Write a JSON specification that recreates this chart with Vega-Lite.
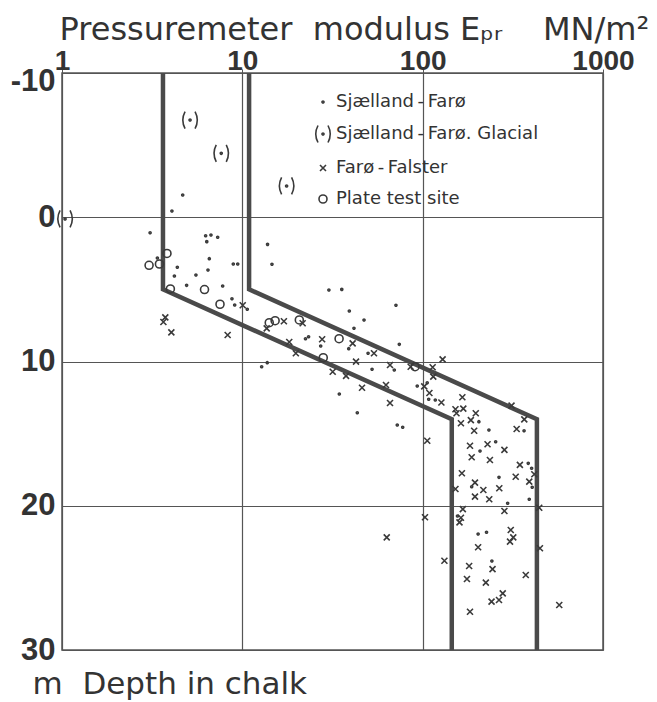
{
  "$schema": "https://vega.github.io/schema/vega-lite/v6.json",
  "width": 541,
  "height": 577,
  "autosize": "none",
  "padding": {"left": 62, "top": 73, "right": 54, "bottom": 52},
  "background": "white",
  "config": {
    "view": {"stroke": "#555", "strokeWidth": 1.5},
    "axis": {"domain": false, "grid": true, "gridColor": "#555", "gridWidth": 1.2, "gridOpacity": 1, "labelColor": "#333", "titleColor": "#333"}
  },
  "datasets": {
    "bounds": [
      {"b": "lower", "i": 0, "E": 3.63, "z": -10},
      {"b": "lower", "i": 1, "E": 3.63, "z": 5},
      {"b": "lower", "i": 2, "E": 145, "z": 14},
      {"b": "lower", "i": 3, "E": 145, "z": 30},
      {"b": "upper", "i": 0, "E": 10.9, "z": -10},
      {"b": "upper", "i": 1, "E": 10.9, "z": 5},
      {"b": "upper", "i": 2, "E": 430, "z": 14},
      {"b": "upper", "i": 3, "E": 430, "z": 30}
    ],
    "pts": [
      {"s": "Sjælland - Farø. Glacial", "E": 5.13, "z": -6.74},
      {"s": "Sjælland - Farø. Glacial", "E": 7.64, "z": -4.43},
      {"s": "Sjælland - Farø. Glacial", "E": 17.6, "z": -2.17},
      {"s": "Sjælland - Farø. Glacial", "E": 1.04, "z": 0.12},
      {"s": "Plate test site", "E": 3.82, "z": 2.51},
      {"s": "Plate test site", "E": 3.47, "z": 3.24},
      {"s": "Plate test site", "E": 3.04, "z": 3.33},
      {"s": "Plate test site", "E": 3.99, "z": 4.97},
      {"s": "Plate test site", "E": 6.17, "z": 5.01},
      {"s": "Plate test site", "E": 7.52, "z": 6.03},
      {"s": "Plate test site", "E": 14.1, "z": 7.31},
      {"s": "Plate test site", "E": 15.2, "z": 7.17},
      {"s": "Plate test site", "E": 20.7, "z": 7.12},
      {"s": "Plate test site", "E": 34.4, "z": 8.42},
      {"s": "Plate test site", "E": 28.1, "z": 9.74},
      {"s": "Plate test site", "E": 90.7, "z": 10.36},
      {"s": "Sjælland - Farø", "E": 4.67, "z": -1.54},
      {"s": "Sjælland - Farø", "E": 4.07, "z": -0.43},
      {"s": "Sjælland - Farø", "E": 3.08, "z": 1.07},
      {"s": "Sjælland - Farø", "E": 6.26, "z": 1.28},
      {"s": "Sjælland - Farø", "E": 6.7, "z": 1.23},
      {"s": "Sjælland - Farø", "E": 7.3, "z": 1.39},
      {"s": "Sjælland - Farø", "E": 6.35, "z": 1.69},
      {"s": "Sjælland - Farø", "E": 3.38, "z": 2.82},
      {"s": "Sjælland - Farø", "E": 6.56, "z": 2.87},
      {"s": "Sjælland - Farø", "E": 4.36, "z": 3.47},
      {"s": "Sjælland - Farø", "E": 6.45, "z": 3.66},
      {"s": "Sjælland - Farø", "E": 8.91, "z": 3.24},
      {"s": "Sjælland - Farø", "E": 9.43, "z": 3.24},
      {"s": "Sjælland - Farø", "E": 4.2, "z": 4.07},
      {"s": "Sjælland - Farø", "E": 5.53, "z": 4.0},
      {"s": "Sjælland - Farø", "E": 4.91, "z": 4.72},
      {"s": "Sjælland - Farø", "E": 7.78, "z": 4.77},
      {"s": "Sjælland - Farø", "E": 13.8, "z": 1.88},
      {"s": "Sjælland - Farø", "E": 14.6, "z": 3.26},
      {"s": "Sjælland - Farø", "E": 8.76, "z": 5.65},
      {"s": "Sjælland - Farø", "E": 9.07, "z": 6.08},
      {"s": "Sjælland - Farø", "E": 10.65, "z": 6.38},
      {"s": "Sjælland - Farø", "E": 30.2, "z": 5.04},
      {"s": "Sjælland - Farø", "E": 35.6, "z": 5.0},
      {"s": "Sjælland - Farø", "E": 71.1, "z": 6.1},
      {"s": "Sjælland - Farø", "E": 39.2, "z": 6.5},
      {"s": "Sjælland - Farø", "E": 47.3, "z": 7.12},
      {"s": "Sjælland - Farø", "E": 41.6, "z": 7.7},
      {"s": "Sjælland - Farø", "E": 22.4, "z": 8.42},
      {"s": "Sjælland - Farø", "E": 23.3, "z": 8.28},
      {"s": "Sjælland - Farø", "E": 27.2, "z": 8.93},
      {"s": "Sjælland - Farø", "E": 38.9, "z": 9.11},
      {"s": "Sjælland - Farø", "E": 49.8, "z": 9.43},
      {"s": "Sjælland - Farø", "E": 74.2, "z": 8.81},
      {"s": "Sjælland - Farø", "E": 12.8, "z": 10.36},
      {"s": "Sjælland - Farø", "E": 13.75, "z": 10.08},
      {"s": "Sjælland - Farø", "E": 52.4, "z": 10.54},
      {"s": "Sjælland - Farø", "E": 69.6, "z": 10.59},
      {"s": "Sjælland - Farø", "E": 34.5, "z": 12.25},
      {"s": "Sjælland - Farø", "E": 43.4, "z": 13.55},
      {"s": "Sjælland - Farø", "E": 72.3, "z": 14.4},
      {"s": "Sjælland - Farø", "E": 77.5, "z": 14.56},
      {"s": "Sjælland - Farø", "E": 93.3, "z": 11.7},
      {"s": "Sjælland - Farø", "E": 106, "z": 11.47},
      {"s": "Sjælland - Farø", "E": 108, "z": 12.62},
      {"s": "Sjælland - Farø", "E": 117.5, "z": 12.67},
      {"s": "Sjælland - Farø", "E": 205, "z": 14.17},
      {"s": "Sjælland - Farø", "E": 233, "z": 14.75},
      {"s": "Sjælland - Farø", "E": 365, "z": 14.8},
      {"s": "Sjælland - Farø", "E": 254, "z": 15.56},
      {"s": "Sjælland - Farø", "E": 208, "z": 16.2},
      {"s": "Sjælland - Farø", "E": 187, "z": 18.68},
      {"s": "Sjælland - Farø", "E": 265, "z": 18.03},
      {"s": "Sjælland - Farø", "E": 385, "z": 17.06},
      {"s": "Sjælland - Farø", "E": 402, "z": 17.4},
      {"s": "Sjælland - Farø", "E": 405, "z": 18.72},
      {"s": "Sjælland - Farø", "E": 390, "z": 19.55},
      {"s": "Sjælland - Farø", "E": 296, "z": 19.83},
      {"s": "Sjælland - Farø", "E": 156, "z": 20.71},
      {"s": "Sjælland - Farø", "E": 203, "z": 21.96},
      {"s": "Sjælland - Farø", "E": 226, "z": 21.84},
      {"s": "Sjælland - Farø", "E": 242, "z": 23.83},
      {"s": "Farø - Falster", "E": 3.74, "z": 6.94},
      {"s": "Farø - Falster", "E": 3.65, "z": 7.26},
      {"s": "Farø - Falster", "E": 4.04, "z": 7.98},
      {"s": "Farø - Falster", "E": 8.29, "z": 8.16},
      {"s": "Farø - Falster", "E": 10.05, "z": 6.1},
      {"s": "Farø - Falster", "E": 13.65, "z": 7.7},
      {"s": "Farø - Falster", "E": 17.0, "z": 7.21},
      {"s": "Farø - Falster", "E": 21.6, "z": 7.35},
      {"s": "Farø - Falster", "E": 27.7, "z": 8.46},
      {"s": "Farø - Falster", "E": 40.9, "z": 8.74},
      {"s": "Farø - Falster", "E": 53.7, "z": 9.43},
      {"s": "Farø - Falster", "E": 42.7, "z": 10.01},
      {"s": "Farø - Falster", "E": 19.8, "z": 9.43},
      {"s": "Farø - Falster", "E": 18.2, "z": 8.65},
      {"s": "Farø - Falster", "E": 31.7, "z": 10.71},
      {"s": "Farø - Falster", "E": 37.6, "z": 11.0},
      {"s": "Farø - Falster", "E": 65.9, "z": 10.24},
      {"s": "Farø - Falster", "E": 85.8, "z": 10.36},
      {"s": "Farø - Falster", "E": 113.6, "z": 10.4},
      {"s": "Farø - Falster", "E": 129, "z": 9.85},
      {"s": "Farø - Falster", "E": 114.5, "z": 11.05},
      {"s": "Farø - Falster", "E": 102, "z": 11.72},
      {"s": "Farø - Falster", "E": 109, "z": 12.18},
      {"s": "Farø - Falster", "E": 127, "z": 12.84},
      {"s": "Farø - Falster", "E": 62.6, "z": 11.63},
      {"s": "Farø - Falster", "E": 46.1, "z": 11.82},
      {"s": "Farø - Falster", "E": 65.9, "z": 12.88},
      {"s": "Farø - Falster", "E": 166, "z": 12.48},
      {"s": "Farø - Falster", "E": 152, "z": 13.31},
      {"s": "Farø - Falster", "E": 168, "z": 13.27},
      {"s": "Farø - Falster", "E": 154, "z": 13.59},
      {"s": "Farø - Falster", "E": 197, "z": 13.59},
      {"s": "Farø - Falster", "E": 185, "z": 14.06},
      {"s": "Farø - Falster", "E": 163, "z": 14.28},
      {"s": "Farø - Falster", "E": 311, "z": 13.06},
      {"s": "Farø - Falster", "E": 366, "z": 14.01},
      {"s": "Farø - Falster", "E": 193, "z": 14.8},
      {"s": "Farø - Falster", "E": 332, "z": 14.68},
      {"s": "Farø - Falster", "E": 106, "z": 15.49},
      {"s": "Farø - Falster", "E": 183, "z": 15.84},
      {"s": "Farø - Falster", "E": 229, "z": 15.74},
      {"s": "Farø - Falster", "E": 284, "z": 16.13},
      {"s": "Farø - Falster", "E": 187, "z": 16.64},
      {"s": "Farø - Falster", "E": 236, "z": 16.83},
      {"s": "Farø - Falster", "E": 165, "z": 17.75},
      {"s": "Farø - Falster", "E": 346, "z": 17.17},
      {"s": "Farø - Falster", "E": 328, "z": 17.99},
      {"s": "Farø - Falster", "E": 390, "z": 18.33},
      {"s": "Farø - Falster", "E": 416, "z": 17.82},
      {"s": "Farø - Falster", "E": 152, "z": 18.84},
      {"s": "Farø - Falster", "E": 195, "z": 18.4},
      {"s": "Farø - Falster", "E": 217, "z": 18.91},
      {"s": "Farø - Falster", "E": 195, "z": 19.37},
      {"s": "Farø - Falster", "E": 234, "z": 19.55},
      {"s": "Farø - Falster", "E": 266, "z": 18.79},
      {"s": "Farø - Falster", "E": 167, "z": 20.23},
      {"s": "Farø - Falster", "E": 284, "z": 20.36},
      {"s": "Farø - Falster", "E": 163, "z": 20.83},
      {"s": "Farø - Falster", "E": 160, "z": 21.15},
      {"s": "Farø - Falster", "E": 103, "z": 20.8},
      {"s": "Farø - Falster", "E": 308, "z": 21.68},
      {"s": "Farø - Falster", "E": 318, "z": 22.19},
      {"s": "Farø - Falster", "E": 305, "z": 22.49},
      {"s": "Farø - Falster", "E": 203, "z": 22.88},
      {"s": "Farø - Falster", "E": 447, "z": 22.95},
      {"s": "Farø - Falster", "E": 63.2, "z": 22.19},
      {"s": "Farø - Falster", "E": 132, "z": 23.81},
      {"s": "Farø - Falster", "E": 181, "z": 24.18},
      {"s": "Farø - Falster", "E": 244, "z": 24.39},
      {"s": "Farø - Falster", "E": 373, "z": 24.8},
      {"s": "Farø - Falster", "E": 176, "z": 25.08},
      {"s": "Farø - Falster", "E": 224, "z": 25.33},
      {"s": "Farø - Falster", "E": 278, "z": 26.07},
      {"s": "Farø - Falster", "E": 241, "z": 26.65},
      {"s": "Farø - Falster", "E": 265, "z": 26.53},
      {"s": "Farø - Falster", "E": 183, "z": 27.35},
      {"s": "Farø - Falster", "E": 572, "z": 26.88},
      {"s": "Farø - Falster", "E": 443, "z": 20.14}
    ]
  },
  "layer": [
    {
      "data": {"name": "bounds"},
      "mark": {"type": "line", "stroke": "#4a4a4a", "strokeWidth": 4.5, "clip": true},
      "encoding": {
        "x": {"field": "E", "type": "quantitative", "scale": {"type": "log", "domain": [1, 1000], "nice": false}},
        "y": {"field": "z", "type": "quantitative", "scale": {"domain": [-10, 30], "reverse": true, "nice": false}},
        "detail": {"field": "b"},
        "order": {"field": "i", "type": "quantitative"}
      }
    },
    {
      "data": {"name": "pts"},
      "mark": {"type": "point", "filled": false, "stroke": "#3a3a3a", "strokeWidth": 1.6, "size": 400, "opacity": 1},
      "encoding": {
        "x": {
          "field": "E", "type": "quantitative",
          "scale": {"type": "log", "domain": [1, 1000], "nice": false},
          "axis": {
            "orient": "top", "values": [1, 10, 100, 1000], "format": "d",
            "labelFont": "Liberation Sans", "labelFontSize": 28, "labelFontWeight": "bold",
            "labelBaseline": "alphabetic", "labelPadding": 0, "tickSize": 4, "tickColor": "#555", "labelFlush": false, "labelOverlap": false,
            "title": "Pressuremeter\u00a0\u00a0modulus\u00a0Eₚᵣ\u00a0\u00a0\u00a0\u00a0MN/m²",
            "titleFont": "DejaVu Sans", "titleFontSize": 32, "titleFontWeight": "normal",
            "titleX": -3, "titleY": -34, "titleAlign": "left", "titleBaseline": "alphabetic"
          }
        },
        "y": {
          "field": "z", "type": "quantitative",
          "scale": {"domain": [-10, 30], "reverse": true, "nice": false},
          "axis": {
            "values": [-10, 0, 10, 20, 30], "ticks": false, "labelExpr": "datum.value < 0 ? '-' + abs(datum.value) : '' + datum.value",
            "labelFont": "Liberation Sans", "labelFontSize": 31, "labelFontWeight": "bold",
            "labelPadding": 7, "labelFlush": false, "labelOverlap": false,
            "labelOffset": {"condition": {"test": "datum.value == -10", "value": 8}, "value": 0},
            "title": "m\u00a0\u00a0Depth in chalk", "titleAngle": 0,
            "titleFont": "DejaVu Sans", "titleFontSize": 31, "titleFontWeight": "normal",
            "titleX": -30, "titleY": 620, "titleAlign": "left", "titleBaseline": "alphabetic"
          }
        },
        "shape": {
          "field": "s", "type": "nominal",
          "scale": {
            "domain": ["Sjælland - Farø", "Sjælland - Farø. Glacial", "Farø - Falster", "Plate test site"],
            "range": [
              "M-0.1,0A0.1,0.1 0 1,0 0.1,0A0.1,0.1 0 1,0 -0.1,0",
              "M-0.5,-0.85Q-0.95,0 -0.5,0.85M0.5,-0.85Q0.95,0 0.5,0.85M-0.1,0A0.1,0.1 0 1,0 0.1,0A0.1,0.1 0 1,0 -0.1,0",
              "M-0.3,-0.3L0.3,0.3M0.3,-0.3L-0.3,0.3",
              "M-0.4,0A0.4,0.4 0 1,0 0.4,0A0.4,0.4 0 1,0 -0.4,0"
            ]
          },
          "legend": {
            "title": null, "orient": "none", "legendX": 250, "legendY": 18, "padding": 0,
            "symbolSize": 400, "symbolStrokeWidth": 1.6, "symbolStrokeColor": "#3a3a3a", "symbolFillColor": "transparent",
            "labelExpr": "replace(datum.label, ' - ', '\u2009-\u2009')",
            "labelFont": "DejaVu Sans", "labelFontSize": 18, "labelColor": "#333", "labelOffset": 2, "rowPadding": 11, "labelLimit": 400
          }
        }
      }
    }
  ]
}
